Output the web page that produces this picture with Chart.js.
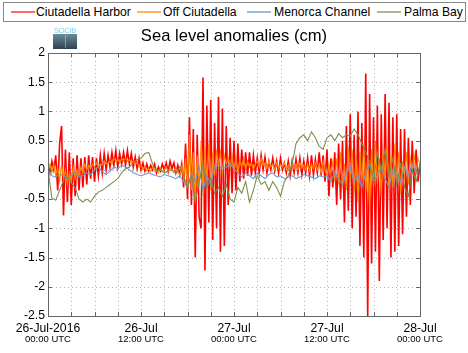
<!DOCTYPE html>
<html>
<head>
<meta charset="utf-8">
<script src="https://cdn.jsdelivr.net/npm/chart.js@4"></script>
<style>
    html, body { margin: 0; padding: 0; background: #fff; }
    body { width: 468px; height: 353px; position: relative; overflow: hidden; font-family: "Liberation Sans", Arial, sans-serif; }
    #chart { position: absolute; left: 0; top: 0; }
    .legend { position: absolute; left: 3px; top: 2px; width: 461px; height: 18px; border: 1px solid #888; background: #fff; }
    .legend .item { position: absolute; top: 0; height: 18px; line-height: 18px; font-size: 12.2px; color: #000; white-space: nowrap; }
    .legend .swatch { position: absolute; top: 8px; width: 24px; height: 2px; }
    .title { position: absolute; left: 0; width: 468px; top: 26px; text-align: center; font-size: 16.6px; color: #000; }
    .logo { position: absolute; left: 53px; top: 27px; width: 24px; height: 22px; }
    .logo .txt { font-size: 7.5px; color: #7ccbe0; line-height: 7px; text-align: center; letter-spacing: -0.3px; }
    .logo .box { position: relative; height: 15px; background: linear-gradient(#6c8c9a, #2e4250); }
    .logo .box::after { content: ''; position: absolute; left: 12px; top: 1px; width: 1px; height: 13px; background: rgba(255,255,255,0.35); }
</style>
</head>
<body>
<canvas id="chart" width="468" height="353"></canvas>
<div class="legend" id="legend"></div>
<div class="logo"><div class="txt">SOCIB</div><div class="box"></div></div>
<div class="title">Sea level anomalies (cm)</div>
<script>
// time axis in hours from 26-Jul-2016 00:00 UTC
const fineStep = 0.25;   // red / orange sampling (h)
const coarseStep = 0.5;  // blue / green sampling (h)

const seriesNames = ['Ciutadella Harbor', 'Off Ciutadella', 'Menorca Channel', 'Palma Bay'];
const seriesColors = ['#ff0000', '#ff8c00', '#6a9bcf', '#7b8f4c'];
const legendColors = ['#ff6a6a', '#ffb25c', '#9dbbdb', '#a9b88f'];

const ciutadellaHarbor = [
    0.1, -0.05, 0.15, 0.0,  0.25, -0.35, 0.45, 0.75,  -0.78, 0.35, -0.55, 0.3,  -0.6, 0.2, -0.45, 0.25,
    -0.35, 0.2, -0.3, 0.22,  -0.25, 0.25, -0.15, 0.22,  -0.2, 0.2, -0.1, 0.25,  -0.05, 0.28, 0.0, 0.25,
    0.05, 0.3, 0.08, 0.33,  0.05, 0.28, 0.1, 0.3,  0.08, 0.33, 0.1, 0.28,  0.05, 0.22, 0.02, 0.2,
    0.0, 0.12, -0.02, 0.1,  -0.02, 0.08, 0.0, 0.1,  -0.05, 0.05, -0.02, 0.1,  0.0, 0.12, -0.03, 0.15,
    0.02, 0.12, -0.05, 0.08,  -0.08, 0.1, -0.3, 0.45,  -0.5, 0.9, -0.6, 0.7,  -1.5, 0.6, -0.8, -1.0,
    1.58, -1.72, 1.1, -0.9,  1.2, -1.2, 0.8, -1.0,  1.25, -1.4, 1.05, -1.3,  0.75, -0.6, 0.55, -0.4,
    0.5, -0.35, 0.45, -0.2,  0.35, -0.15, 0.3, -0.1,  0.3, -0.1, 0.25, -0.05,  0.2, -0.05, 0.25, 0.0,
    0.22, -0.05, 0.15, 0.0,  0.2, -0.02, 0.15, -0.05,  0.2, 0.0, 0.12, -0.05,  0.15, -0.1, 0.15, -0.05,
    0.18, -0.05, 0.2, -0.08,  0.15, -0.05, 0.2, -0.1,  0.25, -0.08, 0.18, -0.05,  0.3, -0.1, 0.25, -0.2,
    0.35, -0.45, 0.2, -0.3,  0.3, -0.6, 0.45, -0.5,  0.5, -0.9, 0.75, -0.7,  0.95, -1.0, 0.6, -0.8,
    1.0, -1.3, 0.8, -1.5,  1.65, -2.5, 1.3, -1.6,  0.9, -1.4, 1.1, -1.9,  0.95, -1.2, 1.3, -1.0,
    1.15, -1.5, 0.9, -1.4,  0.95, -1.3, 0.7, -1.1,  0.7, -0.8, 0.55, -0.6,  0.5, -0.4, 0.35, -0.2, 0.1
];

const offCiutadella = [
    0.05, 0.1, -0.05, 0.1,  -0.1, 0.05, -0.2, 0.1,  -0.15, 0.0, -0.25, -0.05,  -0.2, 0.05, -0.15, 0.0,
    -0.1, 0.05, -0.05, 0.1,  0.0, 0.08, 0.02, 0.1,  0.05, 0.12, 0.05, 0.1,  0.08, 0.15, 0.1, 0.12,
    0.15, 0.1, 0.2, 0.15,  0.18, 0.12, 0.2, 0.15,  0.2, 0.15, 0.18, 0.12,  0.15, 0.1, 0.12, 0.05,
    0.08, 0.0, 0.05, -0.02,  0.02, -0.03, 0.05, -0.02,  0.0, -0.05, 0.02, -0.03,  0.0, 0.05, -0.02, 0.03,
    0.0, -0.05, 0.02, -0.05,  -0.08, 0.05, -0.15, 0.2,  -0.3, 0.6, -0.35, 0.3,  -0.55, 0.25, -0.3, 0.5,
    -0.45, 0.4, -0.2, 0.45,  -0.35, 0.3, -0.1, 0.35,  0.05, 0.3, -0.05, 0.25,  0.1, 0.2, 0.05, 0.25,
    0.0, 0.2, -0.05, 0.15,  0.05, 0.2, 0.0, 0.15,  0.05, 0.12, 0.0, 0.1,  0.15, 0.05, 0.2, 0.08,
    0.12, 0.02, 0.15, 0.05,  0.1, 0.0, 0.12, 0.02,  0.1, 0.05, 0.12, 0.0,  0.08, 0.0, 0.1, 0.02,
    0.1, 0.0, 0.12, 0.03,  0.08, 0.0, 0.1, -0.02,  0.1, 0.02, 0.12, 0.0,  0.1, -0.05, 0.15, 0.0,
    -0.1, 0.1, -0.05, 0.15,  -0.2, 0.2, -0.25, 0.3,  -0.3, 0.1, -0.35, 0.4,  -0.2, 0.35, -0.4, 0.2,
    -0.55, 0.3, -0.2, 0.45,  -0.4, 0.25, -0.7, 0.35,  -0.3, 0.5, -0.25, 0.2,  -0.45, 0.35, -0.15, 0.4,
    -0.35, 0.25, -0.3, 0.45,  -0.2, 0.3, -0.4, 0.15,  -0.1, 0.3, -0.25, 0.2,  0.0, 0.25, -0.05, 0.2, 0.1
];

const menorcaChannel = [
    0.0, -0.1, -0.12, -0.08, -0.1, -0.15, -0.1, -0.05, -0.12, -0.1, -0.05, -0.08,
    0.0, 0.05, -0.03, -0.08, -0.02, 0.05, 0.02, 0.08, 0.05, 0.0, -0.05, -0.08,
    -0.1, -0.08, -0.05, -0.08, -0.1, -0.12, -0.08, -0.1, -0.12, -0.15, -0.1, -0.2,
    -0.3, -0.05, -0.2, 0.05, -0.35, -0.1, -0.25, 0.05, 0.08, 0.02, 0.05, 0.1,
    0.02, -0.05, -0.12, -0.05, -0.1, -0.15, -0.05, -0.1, -0.15, -0.08, -0.05, -0.12,
    -0.1, -0.15, -0.12, -0.1, -0.15, -0.12, -0.08, -0.1, -0.12, -0.15, -0.1, -0.12,
    -0.1, -0.2, -0.05, -0.15, -0.25, -0.05, 0.05, -0.2, -0.1, -0.3, -0.05, 0.1,
    -0.2, -0.1, 0.05, -0.15, -0.3, 0.0, -0.1, -0.2, 0.05, -0.1, 0.1, -0.05, 0.05
];

const palmaBay = [
    0.0, -0.48, -0.52, -0.35, -0.18, -0.12, -0.22, -0.3, -0.5, -0.55, -0.5, -0.55,
    -0.45, -0.38, -0.35, -0.3, -0.25, -0.2, -0.15, -0.05, 0.02, 0.05, 0.12, 0.18,
    0.2, 0.28, 0.3, 0.1, -0.02, 0.0, -0.05, -0.02, 0.0, -0.05, 0.05, -0.1,
    -0.3, -0.1, -0.55, -0.2, 0.1, -0.3, -0.15, -0.4, -0.3, -0.45, -0.25, -0.5,
    -0.55, -0.3, -0.4, -0.2, -0.55, -0.35, -0.1, -0.25, -0.2, -0.35, -0.2, -0.3,
    -0.45, -0.2, -0.1, 0.1, 0.45, 0.55, 0.6, 0.5, 0.65, 0.55, 0.4, 0.35,
    0.55, 0.6, 0.5, 0.62, 0.55, 0.6, 0.58, 0.7, 0.6, 0.45, 0.3, 0.15,
    -0.2, 0.3, 0.0, 0.35, -0.1, 0.2, -0.25, 0.1, -0.3, -0.45, 0.0, -0.2, 0.1
];

const yTicks = [-2.5, -2, -1.5, -1, -0.5, 0, 0.5, 1, 1.5, 2];
const xGridStep = 3;
const xTickHours = [0, 12, 24, 36, 48];
const xTickDates = ['26-Jul-2016', '26-Jul', '27-Jul', '27-Jul', '28-Jul'];
const xTickTimes = ['00:00 UTC', '12:00 UTC', '00:00 UTC', '12:00 UTC', '00:00 UTC'];

const toPoints = (values, step) => values.map((v, i) => ({ x: i * step, y: v }));

// html legend
const legendEl = document.getElementById('legend');
const legendPos = [[7, 32], [133, 159], [243, 270], [373, 400]];
seriesNames.forEach((name, i) => {
    const sw = document.createElement('div');
    sw.className = 'swatch';
    sw.style.left = legendPos[i][0] + 'px';
    sw.style.background = legendColors[i];
    legendEl.appendChild(sw);
    const item = document.createElement('div');
    item.className = 'item';
    item.style.left = legendPos[i][1] + 'px';
    item.textContent = name;
    legendEl.appendChild(item);
});

// matlab-like dotted grid, drawn under the lines
const gridPlugin = {
    id: 'dottedGrid',
    beforeDatasetsDraw(chart) {
        const { ctx, chartArea: a, scales } = chart;
        ctx.save();
        ctx.strokeStyle = '#b4b4b4';
        ctx.lineWidth = 1;
        ctx.setLineDash([1, 3]);
        ctx.beginPath();
        yTicks.forEach((v) => {
            const y = Math.round(scales.y.getPixelForValue(v)) + 0.5;
            ctx.moveTo(a.left, y); ctx.lineTo(a.right, y);
        });
        for (let h = xGridStep; h < 48; h += xGridStep) {
            const x = Math.round(scales.x.getPixelForValue(h)) + 0.5;
            ctx.moveTo(x, a.top); ctx.lineTo(x, a.bottom);
        }
        ctx.stroke();
        ctx.restore();
    }
};

const framePlugin = {
    id: 'frame',
    afterDraw(chart) {
        const { ctx, chartArea: a, scales } = chart;
        ctx.save();
        ctx.strokeStyle = '#666';
        ctx.lineWidth = 1;
        ctx.strokeRect(a.left + 0.5, a.top + 0.5, a.right - a.left, a.bottom - a.top);
        ctx.beginPath();
        yTicks.forEach((v) => {
            const y = Math.round(scales.y.getPixelForValue(v)) + 0.5;
            ctx.moveTo(a.left, y); ctx.lineTo(a.left + 4, y);
            ctx.moveTo(a.right, y); ctx.lineTo(a.right - 4, y);
        });
        for (let h = 0; h <= 48; h += xGridStep) {
            const x = Math.round(scales.x.getPixelForValue(h)) + 0.5;
            ctx.moveTo(x, a.bottom); ctx.lineTo(x, a.bottom - 4);
            ctx.moveTo(x, a.top); ctx.lineTo(x, a.top + 4);
        }
        ctx.stroke();
        ctx.fillStyle = '#000';
        ctx.font = '9.5px "Liberation Sans", Arial, sans-serif';
        ctx.textAlign = 'center';
        ctx.textBaseline = 'alphabetic';
        xTickHours.forEach((h, i) => {
            ctx.fillText(xTickTimes[i], scales.x.getPixelForValue(h), 342);
        });
        ctx.restore();
    }
};

new Chart(document.getElementById('chart'), {
    type: 'line',
    data: {
        datasets: [
            { label: seriesNames[0], data: toPoints(ciutadellaHarbor, fineStep), borderColor: seriesColors[0], borderWidth: 1.6, order: 4 },
            { label: seriesNames[1], data: toPoints(offCiutadella, fineStep), borderColor: seriesColors[1], borderWidth: 1.1, order: 3 },
            { label: seriesNames[2], data: toPoints(menorcaChannel, coarseStep), borderColor: seriesColors[2], borderWidth: 1.1, order: 2 },
            { label: seriesNames[3], data: toPoints(palmaBay, coarseStep), borderColor: seriesColors[3], borderWidth: 1.1, order: 1 }
        ]
    },
    options: {
        responsive: false,
        animation: false,
        events: [],
        elements: { point: { radius: 0 }, line: { tension: 0 } },
        layout: { padding: { left: 0, right: 48, top: 53, bottom: 0 } },
        plugins: { legend: { display: false }, tooltip: { enabled: false }, title: { display: false } },
        scales: {
            x: {
                type: 'linear',
                min: 0,
                max: 48,
                afterFit: (scale) => { scale.height = 37; },
                afterBuildTicks: (scale) => { scale.ticks = xTickHours.map((h) => ({ value: h })); },
                ticks: {
                    autoSkip: false,
                    maxRotation: 0,
                    padding: 5,
                    color: '#000',
                    font: { family: '"Liberation Sans", Arial, sans-serif', size: 12.2 },
                    callback: (value) => xTickDates[xTickHours.indexOf(value)]
                },
                grid: { display: false, drawTicks: false },
                border: { display: false }
            },
            y: {
                min: -2.5,
                max: 2,
                afterFit: (scale) => { scale.width = 48; },
                afterBuildTicks: (scale) => { scale.ticks = yTicks.map((v) => ({ value: v })); },
                ticks: {
                    padding: 3,
                    color: '#000',
                    font: { family: '"Liberation Sans", Arial, sans-serif', size: 12.2 },
                    callback: (value) => String(value)
                },
                grid: { display: false, drawTicks: false },
                border: { display: false }
            }
        }
    },
    plugins: [gridPlugin, framePlugin]
});
</script>
</body>
</html>
